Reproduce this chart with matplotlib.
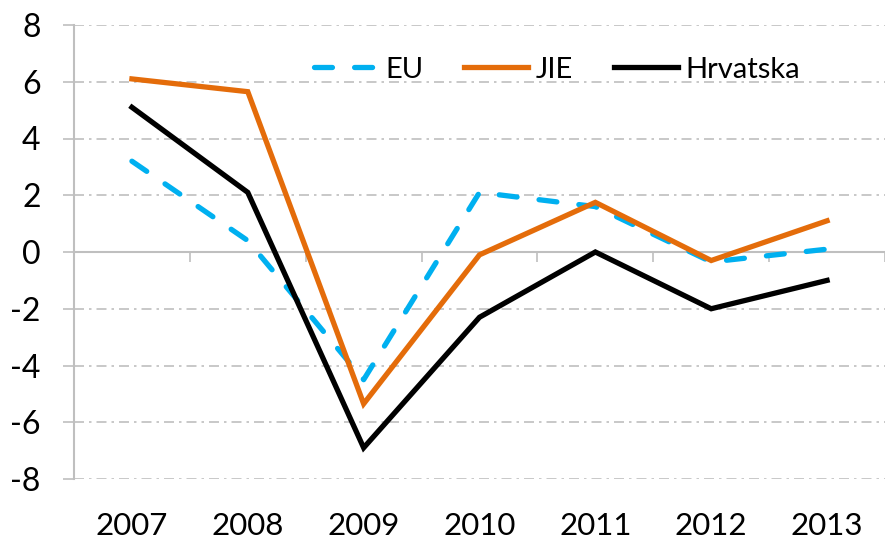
import matplotlib
matplotlib.use("Agg")
import matplotlib.pyplot as plt
import numpy as np

years = ["2007", "2008", "2009", "2010", "2011", "2012", "2013"]
eu = [3.2, 0.4, -4.5, 2.1, 1.6, -0.35, 0.1]
jie = [6.1, 5.65, -5.35, -0.1, 1.75, -0.3, 1.1]
hrv = [5.1, 2.1, -6.9, -2.3, 0.0, -2.0, -1.0]
yticks = [-8, -6, -4, -2, 0, 2, 4, 6, 8]

plt.rcParams['font.family'] = ['Lato', 'DejaVu Sans']

W, H = 885, 542
fig = plt.figure(figsize=(W / 100, H / 100), dpi=100)
ax = fig.add_axes([74 / W, (H - 479) / H, (W - 74) / W, (479 - 25) / H])

x = np.arange(len(years))
grid_col = "#BFBFBF"

for v in yticks:
    if v != 0:
        ax.axhline(v, color=grid_col, lw=1.2, ls=(0, (6, 3, 1.5, 3)), zorder=1)

lw = 3.8
ax.plot(x, eu, color="#00B0F0", lw=lw, dashes=(3.4, 4.2), dash_capstyle="round",
        solid_joinstyle="miter", label="EU", zorder=3)
ax.plot(x, jie, color="#E46C0A", lw=lw, solid_joinstyle="miter", label="JIE", zorder=4)
ax.plot(x, hrv, color="#000000", lw=lw, solid_joinstyle="miter", label="Hrvatska", zorder=5)

ax.set_xlim(-0.5, -0.5 + (W - 73.5) / 117.0)
ax.set_ylim(-8, 8)

for s in ["top", "right"]:
    ax.spines[s].set_visible(False)
ax.spines["left"].set_color(grid_col)
ax.spines["left"].set_linewidth(1.5)
ax.spines["bottom"].set_position(("data", 0))
ax.spines["bottom"].set_color(grid_col)
ax.spines["bottom"].set_linewidth(1.5)

ax.set_yticks(yticks)
ax.set_yticklabels([str(v) for v in yticks], fontsize=23)
ax.tick_params(axis="y", direction="out", length=8, width=1.2, color=grid_col, pad=16)

ax.set_xticks(np.arange(len(years) + 1) - 0.5)
ax.set_xticklabels([])
ax.tick_params(axis="x", direction="out", length=7.5, width=1.2, color=grid_col)

sec = ax.secondary_xaxis(0)
sec.set_xticks(x)
sec.set_xticklabels(years, fontsize=22.5)
sec.tick_params(length=0, pad=24)
sec.spines["bottom"].set_visible(False)

leg = ax.legend(loc="upper left", bbox_to_anchor=(228 / (W - 74), 1.0 - 20 / 454), ncol=3,
                frameon=False, fontsize=21, handlelength=2.2, handletextpad=0.25,
                columnspacing=1.4, borderaxespad=0)

fig.savefig("out.png", dpi=100)
